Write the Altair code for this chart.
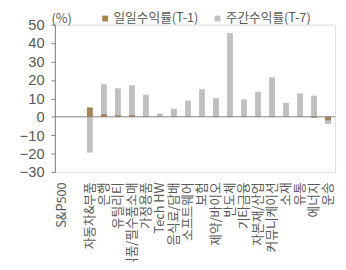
import altair as alt
import pandas as pd

categories = ["S&P500", " ", "자동차&부품", "은행", "유틸리티", "식품/필수품소매", "가정용품",
              "Tech HW", "음식료/담배", "소프트웨어", "보험", "제약/바이오", "반도체",
              "기타금융", "자본재/산업", "커뮤니케이션", "소재", "유통", "에너지", "운송"]
daily = [0.0, None, 5.1, 1.4, 0.9, 0.9, 0.2, 0.1, 0.1, 0.1, 0.1, 0.1, 0.2,
         0.1, 0.1, 0.1, 0.1, 0.1, -0.5, -1.9]
weekly = [0.0, None, -19.4, 17.7, 15.5, 17.1, 12.0, 1.8, 4.4, 8.8, 15.0, 10.1, 45.4,
          9.5, 13.6, 21.4, 7.6, 12.7, 11.5, -3.9]
y_ticks = [-30, -20, -10, 0, 10, 20, 30, 40, 50]
series = ["일일수익률(T-1)", "주간수익률(T-7)"]
colors = ["#A88150", "#C0C0C0"]

rows = []
for c, d, w in zip(categories, daily, weekly):
    rows.append({"cat": c, "series": series[1], "v": w, "order": 0})
    rows.append({"cat": c, "series": series[0], "v": d, "order": 1})
df = pd.DataFrame(rows)

FONT = "Noto Sans CJK KR"
NUMFONT = "Liberation Sans"
TXT = "#595959"

color = alt.Color("series:N",
                  scale=alt.Scale(domain=series, range=colors),
                  legend=alt.Legend(title=None, orient="none", direction="horizontal",
                                    legendX=45, legendY=-13, symbolType="square",
                                    symbolSize=36, symbolStrokeWidth=0,
                                    labelFontSize=13, labelColor=TXT, labelFont=FONT,
                                    columnPadding=12, labelOffset=2, padding=0))

x = alt.X("cat:N", sort=categories,
          scale=alt.Scale(paddingInner=0, paddingOuter=0),
          axis=alt.Axis(title=None, labelAngle=-90, labelAlign="right", labelBaseline="middle",
                        labelFontSize=13, labelColor=TXT, labelFont=FONT, labelPadding=10,
                        ticks=False, domain=False, labelLimit=300, labelOverlap=False))
yscale = alt.Scale(domain=[-30, 50], nice=False, zero=False)
yaxis = alt.Axis(values=y_ticks, tickCount=9, grid=False, title="(%)",
                 titleAngle=0, titleX=-4, titleY=-6, titleAlign="left",
                 titleBaseline="middle", titleFontWeight="normal", titleFontSize=13,
                 titleColor=TXT, titleFont=FONT, labelOverlap=False,
                 labelFontSize=15, labelColor=TXT, labelFont=NUMFONT, labelPadding=7,
                 domainColor="#808080", tickColor="#808080", tickSize=4)

bars = alt.Chart(df).mark_bar(size=6).encode(
    x=x, y=alt.Y("v:Q", scale=yscale, axis=yaxis, stack=None),
    color=color, order=alt.Order("order:Q"))
zero = alt.Chart(pd.DataFrame({"v": [0]})).mark_rule(color="#808080", strokeWidth=1).encode(
    y=alt.Y("v:Q", scale=yscale, axis=yaxis))

chart = alt.layer(bars, zero).properties(
    width=287, height=151,
    padding={"left": 48, "top": 14, "right": 3, "bottom": 89},
    autosize=alt.AutoSizeParams(type="none"),
).configure_view(stroke=None).configure(font=FONT)

chart.save("out.html", embed_options={"renderer": "svg", "actions": False})
